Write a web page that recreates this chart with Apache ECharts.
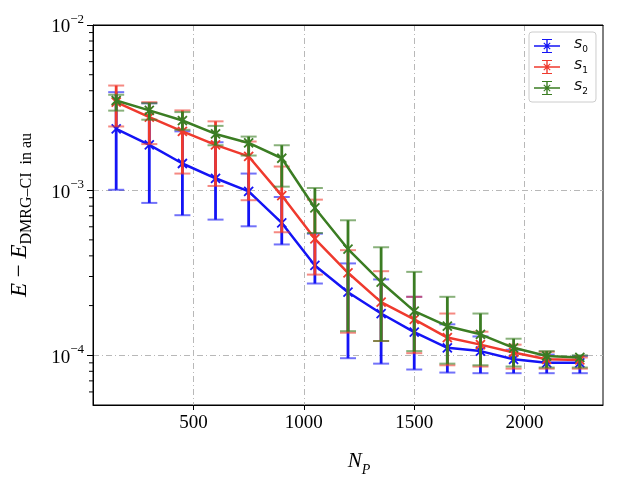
<!DOCTYPE html>
<html lang="en">
<head>
<meta charset="UTF-8">
<title>Energy error vs N_P</title>
<script src="https://cdn.jsdelivr.net/npm/echarts@6/dist/echarts.min.js"></script>
<style>
  html, body { margin: 0; padding: 0; background: #fff; }
  #chart { width: 628px; height: 489px; }
</style>
</head>
<body>
<div id="chart"></div>
<script>
// N_P values
var npValues = [150, 300, 450, 600, 750, 900, 1050, 1200, 1350, 1500, 1650, 1800, 1950, 2100, 2250];

// S0
var s0Mean = [2.35e-3, 1.88e-3, 1.45e-3, 1.18e-3, 9.84e-4, 6.33e-4, 3.50e-4, 2.41e-4, 1.79e-4, 1.38e-4, 1.11e-4, 1.06e-4, 9.46e-5, 9.0e-5, 9.0e-5];
var s0High = [3.92e-3, 3.36e-3, 2.27e-3, 1.95e-3, 1.26e-3, 9.09e-4, 5.45e-4, 3.60e-4, 2.88e-4, 2.26e-4, 1.54e-4, 1.30e-4, 1.08e-4, 1.01e-4, 9.9e-5];
var s0Low = [1.005e-3, 8.37e-4, 7.05e-4, 6.63e-4, 6.04e-4, 4.69e-4, 2.72e-4, 9.6e-5, 8.9e-5, 8.2e-5, 7.86e-5, 7.79e-5, 7.79e-5, 7.79e-5, 7.79e-5];

// S1
var s1Mean = [3.41e-3, 2.77e-3, 2.27e-3, 1.88e-3, 1.60e-3, 9.27e-4, 5.07e-4, 3.16e-4, 2.10e-4, 1.65e-4, 1.28e-4, 1.16e-4, 1.04e-4, 9.46e-5, 9.38e-5];
var s1High = [4.30e-3, 3.41e-3, 3.04e-3, 2.61e-3, 1.97e-3, 1.39e-3, 8.76e-4, 4.33e-4, 3.23e-4, 2.26e-4, 1.79e-4, 1.39e-4, 1.16e-4, 1.05e-4, 9.7e-5];
var s1Low = [2.43e-3, 1.90e-3, 1.26e-3, 1.06e-3, 8.69e-4, 5.56e-4, 3.08e-4, 1.37e-4, 1.22e-4, 1.03e-4, 8.7e-5, 8.55e-5, 8.3e-5, 8.3e-5, 8.3e-5];

// S2
var s2Mean = [3.49e-3, 3.04e-3, 2.64e-3, 2.19e-3, 1.93e-3, 1.56e-3, 7.80e-4, 4.40e-4, 2.77e-4, 1.85e-4, 1.50e-4, 1.34e-4, 1.11e-4, 9.9e-5, 9.7e-5];
var s2High = [3.78e-3, 3.36e-3, 2.97e-3, 2.45e-3, 2.11e-3, 1.87e-3, 1.03e-3, 6.57e-4, 4.51e-4, 3.20e-4, 2.26e-4, 1.79e-4, 1.26e-4, 1.06e-4, 1.0e-4];
var s2Low = [3.03e-3, 2.67e-3, 2.32e-3, 1.87e-3, 1.62e-3, 1.05e-3, 5.5e-4, 1.40e-4, 1.22e-4, 1.06e-4, 8.9e-5, 8.7e-5, 8.55e-5, 8.43e-5, 8.43e-5];

var seriesNames = ['S0', 'S1', 'S2'];
var colors = ['#1414f5', '#ef3a2e', '#3b7d23'];

var xTicks = [500, 1000, 1500, 2000];
var yTicks = [1e-4, 1e-3, 1e-2];
var yMinorTicks = [6e-5, 7e-5, 8e-5, 9e-5,
  2e-4, 3e-4, 4e-4, 5e-4, 6e-4, 7e-4, 8e-4, 9e-4,
  2e-3, 3e-3, 4e-3, 5e-3, 6e-3, 7e-3, 8e-3, 9e-3];

var means = [s0Mean, s1Mean, s2Mean];
var highs = [s0High, s1High, s2High];
var lows = [s0Low, s1Low, s2Low];

var serif = 'Liberation Serif';
var gridLine = { color: '#b8b8b8', width: 1, type: [6, 3, 1, 3] };
var xMin = 45, xMax = 2355;

// legend icon: line + errorbar + x marker
var errIcon = 'path://M0,6.3L26,6.3L26,7.7L0,7.7Z' +
  'M12.3,0L13.7,0L13.7,14L12.3,14Z' +
  'M8,0L18,0L18,1.1L8,1.1Z M8,12.9L18,12.9L18,14L8,14Z' +
  'M9.4,4.2L10.2,3.4L16.6,9.8L15.8,10.6Z M15.8,3.4L16.6,4.2L10.2,10.6L9.4,9.8Z';

function errRender(color) {
  return function (params, api) {
    var x = api.value(0);
    var c = api.coord([x, api.value(1)]);
    var lo = api.coord([x, api.value(2)]);
    var hi = api.coord([x, api.value(3)]);
    var cap = 8, m = 4.5;
    return {
      type: 'group',
      children: [
        { type: 'line', shape: { x1: c[0], y1: lo[1], x2: c[0], y2: hi[1] }, style: { stroke: color, lineWidth: 2.8 } },
        { type: 'line', shape: { x1: c[0] - cap, y1: lo[1], x2: c[0] + cap, y2: lo[1] }, style: { stroke: color, lineWidth: 2, opacity: 0.6 } },
        { type: 'line', shape: { x1: c[0] - cap, y1: hi[1], x2: c[0] + cap, y2: hi[1] }, style: { stroke: color, lineWidth: 2, opacity: 0.6 } },
        { type: 'line', shape: { x1: c[0] - m, y1: c[1] - m, x2: c[0] + m, y2: c[1] + m }, style: { stroke: color, lineWidth: 1.8 } },
        { type: 'line', shape: { x1: c[0] - m, y1: c[1] + m, x2: c[0] + m, y2: c[1] - m }, style: { stroke: color, lineWidth: 1.8 } }
      ]
    };
  };
}

// log minor ticks on the left spine (same x as the spine, drawn outward)
function minorTickRender(params, api) {
  var p = api.coord([api.value(0), api.value(1)]);
  return {
    type: 'rect',
    shape: { x: p[0] - 4, y: p[1] - 0.5, width: 4, height: 1 },
    style: { fill: '#000' }
  };
}

var series = [];
seriesNames.forEach(function (name, i) {
  series.push({
    name: name,
    type: 'line',
    data: npValues.map(function (x, k) { return [x, means[i][k]]; }),
    showSymbol: false,
    lineStyle: { color: colors[i], width: 2.5 },
    itemStyle: { color: colors[i] },
    animation: false,
    z: 2 + i
  });
  series.push({
    name: name,
    type: 'custom',
    data: npValues.map(function (x, k) { return [x, means[i][k], lows[i][k], highs[i][k]]; }),
    renderItem: errRender(colors[i]),
    encode: { x: 0, y: [1, 2, 3] },
    itemStyle: { color: colors[i] },
    animation: false,
    z: 2 + i
  });
});
series.push({
  name: 'minor',
  type: 'custom',
  data: yMinorTicks.map(function (v) { return [xMin, v]; }),
  renderItem: minorTickRender,
  encode: { x: 0, y: 1 },
  silent: true,
  clip: false,
  animation: false,
  z: 10
});

var chart = echarts.init(document.getElementById('chart'));
chart.setOption({
  animation: false,
  grid: {
    left: 92, top: 25, right: 25, bottom: 84,
    show: true, borderColor: '#000', borderWidth: 1, backgroundColor: 'transparent'
  },
  legend: {
    orient: 'vertical',
    left: 529, top: 32,
    padding: [6, 8, 6, 5],
    itemWidth: 26, itemHeight: 14, itemGap: 5,
    backgroundColor: 'rgba(255,255,255,0.85)',
    borderColor: '#cccccc', borderWidth: 1, borderRadius: 3,
    data: seriesNames.map(function (n, i) { return { name: n, icon: errIcon, itemStyle: { color: colors[i] } }; }),
    formatter: function (name) { return '{s|S}{d|' + name.slice(1) + '}'; },
    textStyle: {
      padding: [0, 0, 0, 9],
      rich: {
        s: { fontFamily: 'DejaVu Sans', fontStyle: 'italic', fontSize: 13, color: '#000', lineHeight: 16, verticalAlign: 'top' },
        d: { fontFamily: 'DejaVu Sans', fontSize: 9, color: '#000', lineHeight: 16, verticalAlign: 'bottom' }
      }
    }
  },
  xAxis: [{
    type: 'value',
    min: xMin, max: xMax,
    name: '{n|N}{p|P}',
    nameLocation: 'middle',
    nameGap: 46,
    nameTextStyle: {
      padding: [0, 0, 0, 22],
      rich: {
        n: { fontFamily: serif, fontStyle: 'italic', fontSize: 21, color: '#000', lineHeight: 26, verticalAlign: 'top' },
        p: { fontFamily: serif, fontStyle: 'italic', fontSize: 14, color: '#000', lineHeight: 26, verticalAlign: 'bottom' }
      }
    },
    axisLine: { lineStyle: { color: '#000', width: 1 } },
    axisTick: { customValues: xTicks, length: 5, lineStyle: { color: '#000' } },
    axisLabel: {
      customValues: xTicks, fontFamily: serif, fontSize: 19, color: '#000', margin: 9,
      formatter: function (v) { return String(v); }
    },
    splitLine: { show: true, lineStyle: gridLine }
  }, {
    // top spine
    type: 'value',
    position: 'top',
    min: xMin, max: xMax,
    z: 5,
    axisLine: { show: true, lineStyle: { color: '#000', width: 1 } },
    axisTick: { show: false },
    axisLabel: { show: false },
    splitLine: { show: false }
  }],
  yAxis: {
    type: 'log',
    logBase: 10,
    min: 5e-5, max: 1e-2,
    name: '{i|E}{o| \u2212 }{i|E}{sub|DMRG\u2013CI}{r|  in au}',
    nameLocation: 'middle',
    nameRotate: 90,
    nameGap: 58,
    nameTextStyle: {
      rich: {
        i: { fontFamily: serif, fontStyle: 'italic', fontSize: 23, color: '#000', lineHeight: 27, verticalAlign: 'top' },
        o: { fontFamily: serif, fontSize: 23, color: '#000', lineHeight: 27, verticalAlign: 'top' },
        sub: { fontFamily: serif, fontSize: 16, color: '#000', lineHeight: 27, verticalAlign: 'bottom' },
        r: { fontFamily: serif, fontSize: 16, color: '#000', lineHeight: 27, verticalAlign: 'bottom' }
      }
    },
    axisLine: { lineStyle: { color: '#000', width: 1 } },
    axisTick: { customValues: yTicks, length: 6, lineStyle: { color: '#000' } },
    axisLabel: {
      customValues: yTicks,
      margin: 9,
      formatter: function (v) {
        var e = Math.round(Math.log10(v));
        return '{b|10}{s|\u2212' + (-e) + '}';
      },
      rich: {
        b: { fontFamily: serif, fontSize: 19, color: '#000', lineHeight: 24, verticalAlign: 'bottom' },
        s: { fontFamily: serif, fontSize: 13, color: '#000', lineHeight: 24, verticalAlign: 'top' }
      }
    },
    splitLine: { show: true, lineStyle: gridLine }
  },
  series: series
});
</script>
</body>
</html>
